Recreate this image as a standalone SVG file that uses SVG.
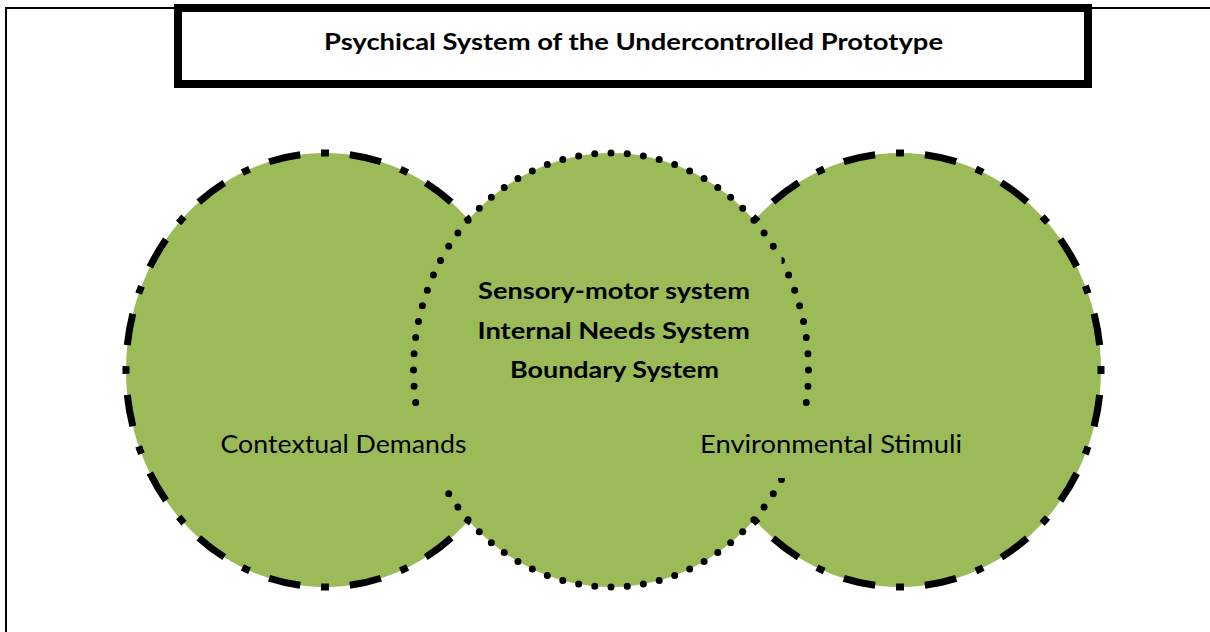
<svg xmlns="http://www.w3.org/2000/svg" width="1210" height="632" viewBox="0 0 1210 632">
  <style>
    .bg { fill: #ffffff; }
    .frame { fill: none; stroke: #000; stroke-width: 2; }
    .side { fill: #9bbb59; stroke: #000; stroke-width: 7; stroke-dasharray: 8 21 32 21; stroke-dashoffset: 4; }
    .mid { fill: #9bbb59; stroke: #000; stroke-width: 7; stroke-linecap: round; stroke-dasharray: 0 1; }
    .cover { fill: #9bbb59; stroke: none; }
    .titlebox { fill: #ffffff; stroke: #000; stroke-width: 8; }
    .bold { font-family: Lato, "Liberation Sans", Arial, sans-serif; font-weight: bold; fill: #000; }
    .reg { font-family: Lato, "Liberation Sans", Arial, sans-serif; fill: #000; }
  </style>
  <rect class="bg" x="0" y="0" width="1210" height="632"/>
  <rect class="frame" x="6" y="8" width="1230" height="650"/>

  <g id="contextual-demands">
    <path class="side" pathLength="1312" d="M 325 153 A 199 217 0 1 1 325 587 A 199 217 0 1 1 325 153 Z"/>
  </g>
  <g id="environmental-stimuli">
    <path class="side" pathLength="1312" d="M 900 153 A 201 217 0 1 1 900 587 A 201 217 0 1 1 900 153 Z"/>
  </g>
  <g id="psychical-core">
    <ellipse class="mid" pathLength="80" cx="611" cy="370" rx="197.5" ry="217"/>
    <rect class="cover" x="445" y="254" width="336.5" height="140"/>
    <text class="bold" font-size="22.5" x="478" y="299" textLength="272" lengthAdjust="spacingAndGlyphs">Sensory-motor system</text>
    <text class="bold" font-size="22.5" x="477.5" y="339" textLength="272.5" lengthAdjust="spacingAndGlyphs">Internal Needs System</text>
    <text class="bold" font-size="22.5" x="510" y="378" textLength="209" lengthAdjust="spacingAndGlyphs">Boundary System</text>
  </g>
  <g id="label-contextual">
    <rect class="cover" x="205" y="411" width="275" height="75"/>
    <text class="reg" font-size="25" x="220.5" y="452.5" textLength="246" lengthAdjust="spacingAndGlyphs">Contextual Demands</text>
  </g>
  <g id="label-environmental">
    <rect class="cover" x="685" y="411" width="290" height="67"/>
    <text class="reg" font-size="25" x="700" y="453" textLength="262" lengthAdjust="spacingAndGlyphs">Environmental Stimuli</text>
  </g>

  <g id="title">
    <rect class="titlebox" x="178" y="8" width="910" height="76"/>
    <text class="bold" font-size="23.5" x="324" y="49.5" textLength="619" lengthAdjust="spacingAndGlyphs">Psychical System of the Undercontrolled Prototype</text>
  </g>
  <g id="connectors"></g>
</svg>
